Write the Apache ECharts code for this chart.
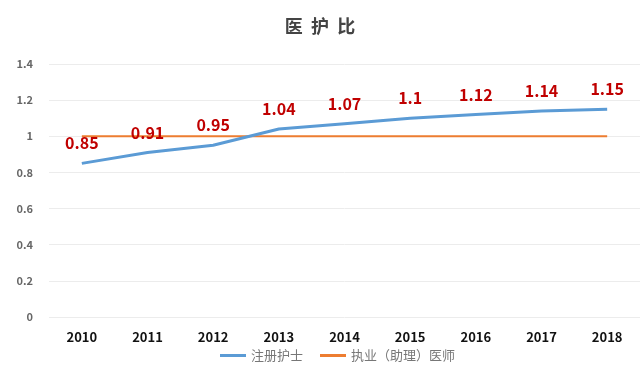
<!DOCTYPE html>
<html><head><meta charset="utf-8">
<script src="https://cdn.jsdelivr.net/npm/echarts@6/dist/echarts.min.js"></script>
<style>html,body{margin:0;padding:0;background:#fff}#c{width:640px;height:375px}</style>
</head><body><div id="c"></div>
<script>
var categories = ['2010','2011','2012','2013','2014','2015','2016','2017','2018'];
var nurseValues = [0.85,0.91,0.95,1.04,1.07,1.1,1.12,1.14,1.15];
var doctorValues = [1,1,1,1,1,1,1,1,1];
var seriesNames = ['注册护士','执业（助理）医师'];
var yTicks = {min:0,max:1.4,interval:0.2};

var chart = echarts.init(document.getElementById('c'));
var font = '"Noto Sans CJK SC","Noto Sans",sans-serif';
chart.setOption({
  animation:false,
  textStyle:{fontFamily:font},
  title:{text:'医  护  比',left:'center',top:12,textStyle:{fontSize:18,fontWeight:'bold',color:'#444',fontFamily:font}},
  grid:{left:49,top:64,width:596,height:253},
  legend:{bottom:8,left:215,itemWidth:26,itemHeight:3,icon:'rect',itemGap:17,
    textStyle:{color:'#777',fontSize:13,fontFamily:font},data:seriesNames},
  xAxis:{type:'category',data:categories,boundaryGap:true,
    axisLine:{show:false},axisTick:{show:false},
    axisLabel:{color:'#111',fontWeight:'bold',fontSize:13,margin:14,fontFamily:font}},
  yAxis:{type:'value',min:yTicks.min,max:yTicks.max,interval:yTicks.interval,
    axisLine:{show:false},axisTick:{show:false},
    splitLine:{lineStyle:{color:'#ececec',width:1}},
    axisLabel:{color:'#666',fontWeight:'bold',fontSize:11,margin:16,fontFamily:font}},
  series:[
    {name:seriesNames[0],type:'line',data:nurseValues,symbol:'circle',symbolSize:0.1,showSymbol:true,
      lineStyle:{color:'#5b9bd5',width:3},itemStyle:{color:'#5b9bd5'},
      label:{show:true,position:'top',distance:12,color:'#c00000',fontWeight:'bold',fontSize:16,fontFamily:font},z:3},
    {name:seriesNames[1],type:'line',data:doctorValues,symbol:'none',
      lineStyle:{color:'#ed7d31',width:2},itemStyle:{color:'#ed7d31'},z:2}
  ]
});
</script></body></html>
